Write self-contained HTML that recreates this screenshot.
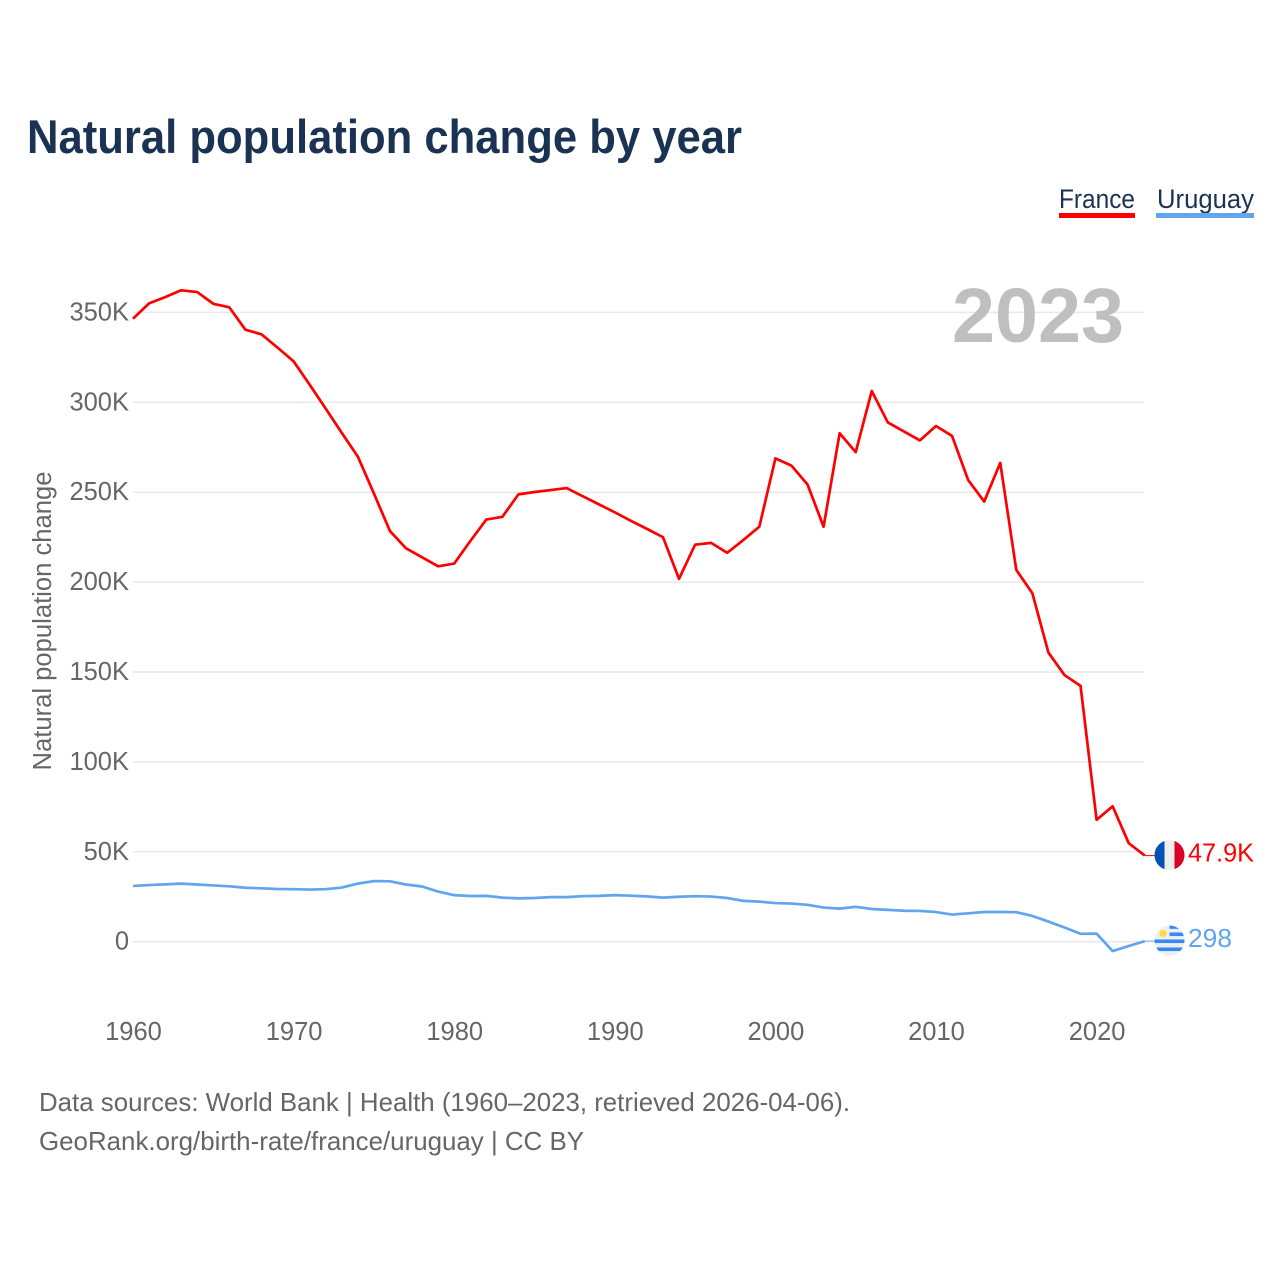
<!DOCTYPE html>
<html lang="en">
<head>
<meta charset="utf-8">
<title>Natural population change by year</title>
<style>
html,body{margin:0;padding:0;background:#fff;width:1280px;height:1280px;overflow:hidden}
svg{display:block}
text{font-family:"Liberation Sans",sans-serif}
</style>
</head>
<body>
<svg id="chart" width="1280" height="1280" viewBox="0 0 1280 1280" xmlns="http://www.w3.org/2000/svg">
  <defs>
    <clipPath id="france-clip"><circle cx="0" cy="0" r="15"/></clipPath>
    <clipPath id="uruguay-clip"><circle cx="0" cy="0" r="15"/></clipPath>
  </defs>
  <rect x="0" y="0" width="1280" height="1280" fill="#fff"/>
  <text x="27" y="153" font-size="47" font-weight="700" fill="#1a3353" textLength="715" lengthAdjust="spacingAndGlyphs">Natural population change by year</text>

  <g>
    <g>
      <text x="1059" y="208" font-size="27" fill="#1a3353" textLength="76" lengthAdjust="spacingAndGlyphs">France</text>
      <rect x="1059" y="213" width="76" height="5" fill="#ff0000"/>
    </g>
    <g>
      <text x="1157" y="208" font-size="27" fill="#1a3353" textLength="97" lengthAdjust="spacingAndGlyphs">Uruguay</text>
      <rect x="1156" y="213" width="98" height="5" fill="#60a5ee"/>
    </g>
  </g>

  <g id="grid"></g>
  <g id="y-ticks"></g>
  <g id="x-ticks"></g>

  <text transform="translate(51 621) rotate(-90)" text-anchor="middle" font-size="25.5" fill="#666" textLength="299" lengthAdjust="spacingAndGlyphs">Natural population change</text>

  <text x="952" y="342" font-size="77" font-weight="700" fill="#bfbfbf" textLength="172" lengthAdjust="spacingAndGlyphs">2023</text>

  <g id="series"></g>

  <g id="flag-france">
    <g clip-path="url(#france-clip)">
      <rect x="-15" y="-15" width="30" height="30" fill="#eeeeee"/>
      <rect x="-15" y="-15" width="10" height="30" fill="#0052b4"/>
      <rect x="5" y="-15" width="10" height="30" fill="#d80027"/>
    </g>
  </g>
  <g id="flag-uruguay">
    <g clip-path="url(#uruguay-clip)">
      <rect x="-15" y="-15" width="30" height="30" fill="#eeeeee"/>
      <rect x="0" y="-15" width="15" height="3.4" fill="#338af3"/>
      <rect x="0" y="-8" width="15" height="3.6" fill="#338af3"/>
      <rect x="-15" y="-1" width="30" height="3.6" fill="#338af3"/>
      <rect x="-15" y="7" width="30" height="3.6" fill="#338af3"/>
      <circle cx="-6.5" cy="-7" r="3.6" fill="#ffda44"/>
    </g>
  </g>

  <g id="end-labels"></g>

  <text x="39" y="1111" font-size="26" fill="#666" textLength="811" lengthAdjust="spacingAndGlyphs">Data sources: World Bank | Health (1960–2023, retrieved 2026-04-06).</text>
  <text x="39" y="1150" font-size="26" fill="#666" textLength="545" lengthAdjust="spacingAndGlyphs">GeoRank.org/birth-rate/france/uruguay | CC BY</text>
</svg>

<script>
var startYear = 1960;
var yTickValues = [0, 50, 100, 150, 200, 250, 300, 350];
var yTickLabels = ["0", "50K", "100K", "150K", "200K", "250K", "300K", "350K"];
var xTickYears = [1960, 1970, 1980, 1990, 2000, 2010, 2020];
var seriesNames = ["france", "uruguay"];
var franceValues = [346.5, 355, 358.5, 362.3, 361.3, 354.8, 352.8, 340.4, 337.8, 330.4, 322.8, 309.8, 296.5, 283, 269.8, 249.3, 228.4, 218.8, 213.8, 208.8, 210.3, 222.8, 234.8, 236.3, 248.8, 250.1, 251.2, 252.3, 247.8, 243.3, 238.8, 234.1, 229.6, 225, 201.8, 220.8, 221.8, 216.3, 223.4, 230.8, 268.8, 264.8, 254.3, 230.8, 282.8, 272.3, 306.3, 288.8, 283.8, 278.8, 286.8, 281.3, 256.8, 244.8, 266.3, 206.8, 193.8, 160.8, 148.3, 142.3, 67.8, 75.3, 54.8, 47.9];
var uruguayValues = [31, 31.5, 31.9, 32.3, 31.8, 31.3, 30.8, 30, 29.7, 29.3, 29.2, 29, 29.2, 30.1, 32.3, 33.7, 33.6, 31.8, 30.7, 27.9, 25.9, 25.4, 25.5, 24.5, 24.1, 24.3, 24.8, 24.8, 25.3, 25.5, 25.9, 25.6, 25.2, 24.5, 25, 25.3, 25.1, 24.3, 22.7, 22.3, 21.5, 21.2, 20.5, 19, 18.4, 19.4, 18.2, 17.7, 17.2, 17.1, 16.5, 15.1, 15.8, 16.5, 16.5, 16.4, 14.3, 11.2, 7.9, 4.4, 4.5, -5.2, -2.4, 0.298];
var endLabels = ["47.9K", "298"];

var NS = "http://www.w3.org/2000/svg";
function xScale(year) { return 133 + (year - 1960) * 16.06; }
function yScale(v) { return 941.7 - v * 1.798; }
function make(tag, attrs, parent) {
  var el = document.createElementNS(NS, tag);
  for (var k in attrs) el.setAttribute(k, attrs[k]);
  parent.appendChild(el);
  return el;
}

var grid = document.getElementById("grid");
var yTicks = document.getElementById("y-ticks");
var xTicks = document.getElementById("x-ticks");
var seriesGroup = document.getElementById("series");
var labelsGroup = document.getElementById("end-labels");

yTickValues.forEach(function (v, i) {
  var line = make("line", { x1: 133, x2: 1144, y1: yScale(v), y2: yScale(v), stroke: "#e9e9e9", "stroke-width": 1.5 }, grid);
  
  
  var t = make("text", { x: 129, y: yScale(v) + 8, "text-anchor": "end", "font-size": 25.5, fill: "#666" }, yTicks);
  t.textContent = yTickLabels[i];
  
  
});

xTickYears.forEach(function (yr) {
  var t = make("text", { x: xScale(yr) + 0.5, y: 1040, "text-anchor": "middle", "font-size": 25.5, fill: "#666" }, xTicks);
  t.textContent = String(yr);
  
  
});

function pointsFor(values) {
  return values.map(function (v, i) {
    return xScale(startYear + i).toFixed(2) + "," + yScale(v).toFixed(2);
  }).join(" ");
}

var lastYear = startYear + franceValues.length - 1;

var uruguayLine = make("polyline", { points: pointsFor(uruguayValues), fill: "none", stroke: "#60a5ee", "stroke-width": 2.7, "stroke-linejoin": "round" }, seriesGroup);


var franceLine = make("polyline", { points: pointsFor(franceValues), fill: "none", stroke: "#ff0000", "stroke-width": 2.7, "stroke-linejoin": "round" }, seriesGroup);



var franceEnd = yScale(franceValues[franceValues.length - 1]);
var uruguayEnd = yScale(uruguayValues[uruguayValues.length - 1]);

var franceLead = make("line", { x1: xScale(lastYear), x2: 1155, y1: franceEnd, y2: franceEnd, stroke: "#ff0000", "stroke-width": 1 }, seriesGroup);


var uruguayLead = make("line", { x1: xScale(lastYear), x2: 1155, y1: uruguayEnd, y2: uruguayEnd, stroke: "#60a5ee", "stroke-width": 1 }, seriesGroup);



document.getElementById("flag-france").setAttribute("transform", "translate(1169.5 " + (franceEnd - 0.5) + ")");
document.getElementById("flag-uruguay").setAttribute("transform", "translate(1169.5 " + (uruguayEnd - 0.7) + ")");

var franceLabel = make("text", { x: 1188, y: franceEnd + 6, "font-size": 26, fill: "#ff0000", textLength: 66, lengthAdjust: "spacingAndGlyphs" }, labelsGroup);
franceLabel.textContent = endLabels[0];


var uruguayLabel = make("text", { x: 1188, y: uruguayEnd + 6, "font-size": 26, fill: "#60a5ee", textLength: 44, lengthAdjust: "spacingAndGlyphs" }, labelsGroup);
uruguayLabel.textContent = endLabels[1];


</script>
</body>
</html>
